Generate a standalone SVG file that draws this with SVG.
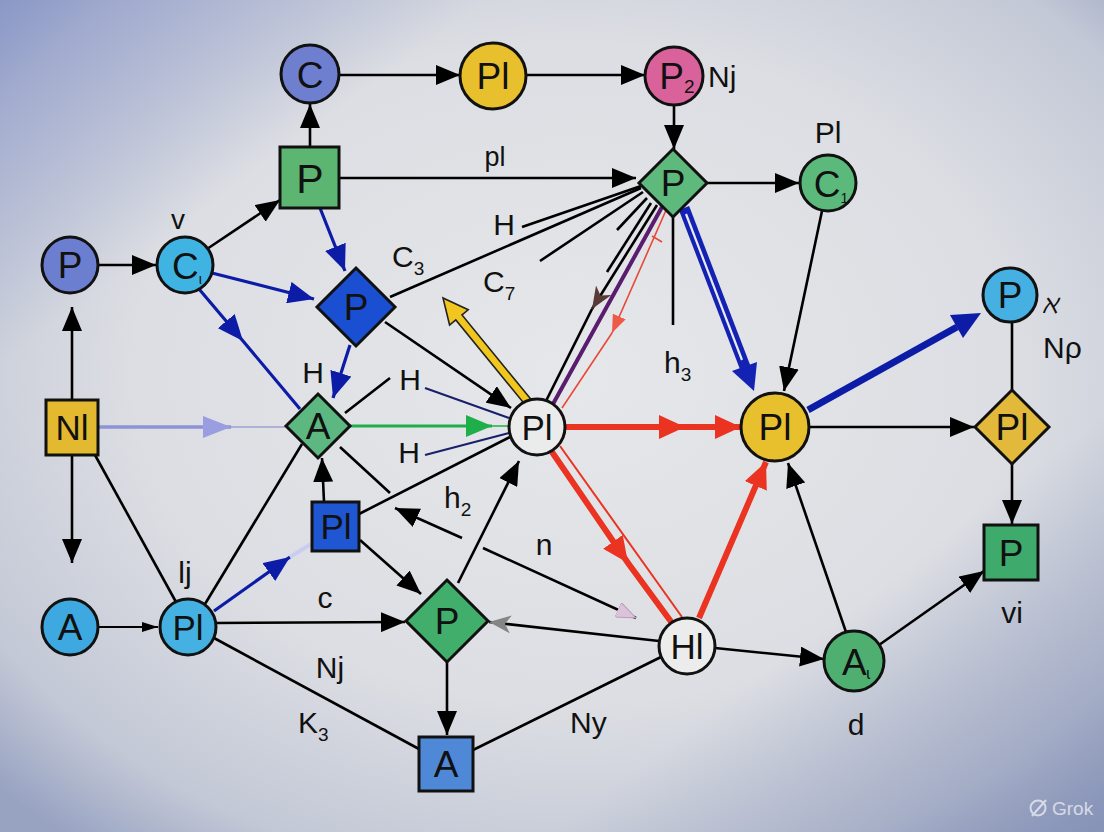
<svg xmlns="http://www.w3.org/2000/svg" width="1104" height="832" viewBox="0 0 1104 832">
<defs>
<radialGradient id="bg" cx="0.52" cy="0.45" r="0.72">
<stop offset="0" stop-color="#e6e7ea"/>
<stop offset="0.55" stop-color="#dcdee3"/>
<stop offset="0.85" stop-color="#c3c8d6"/>
<stop offset="1" stop-color="#98a3c2"/>
</radialGradient>
<linearGradient id="bg2" x1="0" y1="0" x2="1" y2="1">
<stop offset="0" stop-color="#7d8cc6" stop-opacity="0.65"/>
<stop offset="0.22" stop-color="#7d8cc6" stop-opacity="0"/>
<stop offset="0.75" stop-color="#7f8cb3" stop-opacity="0"/>
<stop offset="1" stop-color="#7f8cb3" stop-opacity="0.7"/>
</linearGradient>
<marker id="ah" markerUnits="userSpaceOnUse" markerWidth="24" markerHeight="20" refX="24" refY="10" orient="auto"><path d="M0,0 L24,10 L0,20 z" fill="#000"/></marker>
<marker id="ahs" markerUnits="userSpaceOnUse" markerWidth="16" markerHeight="10" refX="16" refY="5" orient="auto"><path d="M0,0 L16,5 L0,10 z" fill="#000"/></marker>
<marker id="ahb" markerUnits="userSpaceOnUse" markerWidth="26" markerHeight="22" refX="26" refY="11" orient="auto"><path d="M0,0 L26,11 L0,22 z" fill="#0c1ca6"/></marker>
<marker id="ahg" markerUnits="userSpaceOnUse" markerWidth="26" markerHeight="22" refX="26" refY="11" orient="auto"><path d="M0,0 L26,11 L0,22 z" fill="#1eae4a"/></marker>
<marker id="ahr" markerUnits="userSpaceOnUse" markerWidth="26" markerHeight="24" refX="26" refY="12" orient="auto"><path d="M0,0 L26,12 L0,24 z" fill="#ea3320"/></marker>
<marker id="ahrt" markerUnits="userSpaceOnUse" markerWidth="18" markerHeight="14" refX="18" refY="7" orient="auto"><path d="M0,0 L18,7 L0,14 z" fill="#ee5a48"/></marker>
<marker id="ahp" markerUnits="userSpaceOnUse" markerWidth="28" markerHeight="22" refX="28" refY="11" orient="auto"><path d="M0,0 L28,11 L0,22 z" fill="#9a9de0"/></marker>
<marker id="ahgr" markerUnits="userSpaceOnUse" markerWidth="22" markerHeight="18" refX="22" refY="9" orient="auto"><path d="M0,0 L22,9 L0,18 L6,9 z" fill="#858585"/></marker>
<marker id="ahpk" markerUnits="userSpaceOnUse" markerWidth="20" markerHeight="16" refX="20" refY="8" orient="auto"><path d="M0,0 L20,8 L0,16 z" fill="#dcc3dc" stroke="#b89ab8" stroke-width="1"/></marker>
<marker id="ahbr" markerUnits="userSpaceOnUse" markerWidth="22" markerHeight="18" refX="22" refY="9" orient="auto"><path d="M0,0 L22,9 L0,18 L6,9 z" fill="#5a3a34"/></marker>
<style>
.nd{stroke:#111;stroke-width:3}
.nl{font-family:"Liberation Sans",Arial,sans-serif;font-size:37px;text-anchor:middle;fill:#111}
.el{font-family:"Liberation Sans",Arial,sans-serif;font-size:30px;fill:#111}
.sub{font-size:19px}
.k{stroke:#000;stroke-width:2.6;fill:none}
.kb{stroke:#0c1ca6;stroke-width:3.2;fill:none}
.nv{stroke:#1a1f6a;stroke-width:2;fill:none}
</style>
</defs>
<rect width="1104" height="832" fill="url(#bg)"/>
<rect width="1104" height="832" fill="url(#bg2)"/>

<g id="edges">
<path class="k" d="M339,75 L460,75" marker-end="url(#ah)"/>
<path class="k" d="M526,75 L645,75" marker-end="url(#ah)"/>
<path class="k" d="M674,105 L674,149" marker-end="url(#ah)"/>
<path class="k" d="M310,147 L310,104" marker-end="url(#ah)"/>
<path class="k" d="M339,178 L636,178" marker-end="url(#ah)"/>
<path class="k" d="M707,183 L799,183" marker-end="url(#ah)"/>
<path class="k" d="M98,265 L156,265" marker-end="url(#ah)"/>
<path class="k" d="M207,249 L280,200" marker-end="url(#ah)"/>
<path class="kb" d="M212,273 L314,299" marker-end="url(#ahb)"/>
<path class="kb" d="M199,289 L243,341 L300,409" marker-mid="url(#ahb)"/>
<path class="kb" d="M320,208 L345,271" marker-end="url(#ahb)"/>
<path class="kb" d="M350,345 L333,398" marker-end="url(#ahb)"/>
<path class="kb" d="M214,611 L290,557" marker-end="url(#ahb)"/>
<path d="M290,557 L311,544" stroke="#c9cdf0" stroke-width="4"/>
<path class="k" d="M390,297 L641,188"/>
<path class="k" d="M522,227 L641,186"/>
<path class="k" d="M540,261 L643,192"/>
<path class="k" d="M617,230 L647,198"/>
<path class="k" d="M607,272 L651,203"/>
<path class="k" d="M657,205 L592,309" marker-end="url(#ahbr)"/>
<path class="k" d="M592,309 L546,401"/>
<path d="M553,404 L662,207" stroke="#5a1c6e" stroke-width="4" fill="none"/>
<path d="M667,208 L612,333" stroke="#e84838" stroke-width="1.6" fill="none" marker-end="url(#ahrt)"/>
<path d="M612,333 L562,408" stroke="#e84838" stroke-width="1.6" fill="none"/>
<path d="M652,236 L662,242" stroke="#e84838" stroke-width="1.6"/>
<path class="k" d="M673,217 L673,325"/>
<path d="M684,208 L745,367" stroke="#1422b4" stroke-width="11" fill="none"/>
<path d="M686,214 L742,360" stroke="#e8eaf4" stroke-width="2.2" fill="none"/>
<polygon points="757,362 732,371 754,391" fill="#1422b4"/>
<path class="k" d="M822,211 L784,391" marker-end="url(#ah)"/>
<path d="M808,410 L957,327" stroke="#0c1ca6" stroke-width="7" fill="none"/>
<polygon points="963,338 950,315 981,313" fill="#0c1ca6"/>
<path class="k" d="M1012,322 L1012,390"/>
<path class="k" d="M809,427 L974,427" marker-end="url(#ah)"/>
<path class="k" d="M1012,464 L1012,524" marker-end="url(#ah)"/>
<path class="k" d="M879,645 L984,571" marker-end="url(#ah)"/>
<path class="k" d="M846,632 L788,463" marker-end="url(#ah)"/>
<path class="k" d="M715,648 L824,659" marker-end="url(#ah)"/>
<path d="M565,427 L685,427 L741,427" stroke="#ea3320" stroke-width="6" fill="none" marker-mid="url(#ahr)" marker-end="url(#ahr)"/>
<path d="M699,618 L766,462" stroke="#ea3320" stroke-width="6" fill="none" marker-end="url(#ahr)"/>
<path d="M552,452 L628,563 L672,623" stroke="#ea3320" stroke-width="6" fill="none" marker-mid="url(#ahr)"/>
<path d="M560,446 L682,617" stroke="#ea3320" stroke-width="2" fill="none"/>
<polygon points="531.1,399.5 462,314.9 468.2,309.8 443,298 449.6,325 455.8,319.9 524.9,404.5" fill="#f1c71f" stroke="#222" stroke-width="1.6"/>
<path d="M350,426 L492,426" stroke="#1eae4a" stroke-width="3" fill="none" marker-end="url(#ahg)"/>
<path d="M492,426 L509,426" stroke="#1eae4a" stroke-width="1.5"/>
<path d="M98,427 L231,427" stroke="#8e92d6" stroke-width="3.5" fill="none" marker-end="url(#ahp)"/>
<path d="M231,427 L285,427" stroke="#9ea2d2" stroke-width="1.5"/>
<path class="k" d="M385,322 L511,408" marker-end="url(#ah)"/>
<path class="nv" d="M425,388 L509,418"/>
<path class="nv" d="M425,455 L509,433"/>
<path class="k" d="M345,413 L390,378"/>
<path class="k" d="M340,447 L390,493"/>
<path class="k" d="M359,514 L510,437"/>
<path class="k" d="M462,538 L395,508" marker-end="url(#ah)"/>
<path class="k" d="M483,548 L636,618" marker-end="url(#ahpk)"/>
<path class="k" d="M458,583 L519,461" marker-end="url(#ah)"/>
<path class="k" d="M360,540 L421,594" marker-end="url(#ah)"/>
<path class="k" d="M324,502 L322,458" marker-end="url(#ah)"/>
<path class="k" d="M72,400 L72,307" marker-end="url(#ah)"/>
<path class="k" d="M72,455 L72,563" marker-end="url(#ah)"/>
<path class="k" d="M95,455 L176,602"/>
<path class="k" d="M205,604 L302,444"/>
<path d="M98,627 L158,627" stroke="#000" stroke-width="2" marker-end="url(#ahs)"/>
<path class="k" d="M216,623 L405,622" marker-end="url(#ah)"/>
<path class="k" d="M214,638 L419,749"/>
<path class="k" d="M447,662 L447,735" marker-end="url(#ah)"/>
<path class="k" d="M473,750 L661,657"/>
<path class="k" d="M659,641 L489,622" marker-end="url(#ahgr)"/>
</g>

<g id="labels">
<text class="el" x="495" y="166" text-anchor="middle" style="font-size:27px">pl</text>
<text class="el" x="504" y="235" text-anchor="middle">H</text>
<text class="el" x="392" y="267">C<tspan class="sub" dy="8">3</tspan></text>
<text class="el" x="483" y="292">C<tspan class="sub" dy="8">7</tspan></text>
<text class="el" x="664" y="373">h<tspan class="sub" dy="8">3</tspan></text>
<text class="el" x="313" y="383" text-anchor="middle">H</text>
<text class="el" x="410" y="390" text-anchor="middle">H</text>
<text class="el" x="409" y="463" text-anchor="middle">H</text>
<text class="el" x="444" y="508">h<tspan class="sub" dy="8">2</tspan></text>
<text class="el" x="544" y="555" text-anchor="middle">n</text>
<text class="el" x="185" y="583" text-anchor="middle">lj</text>
<text class="el" x="325" y="608" text-anchor="middle">c</text>
<text class="el" x="330" y="678" text-anchor="middle">Nj</text>
<text class="el" x="298" y="733">K<tspan class="sub" dy="8">3</tspan></text>
<text class="el" x="570" y="733">Ny</text>
<text class="el" x="708" y="87">Nj</text>
<text class="el" x="828" y="143" text-anchor="middle">Pl</text>
<text class="el" x="178" y="229" text-anchor="middle" style="font-size:28px">v</text>
<text class="el" x="1042" y="313" style="font-size:26px;font-style:italic">ℵ</text>
<text class="el" x="1043" y="358">Nρ</text>
<text class="el" x="1012" y="623" text-anchor="middle">vi</text>
<text class="el" x="856" y="735" text-anchor="middle">d</text>
</g>

<g id="n-C-top"><circle class="nd" cx="310" cy="74" r="29" fill="#6e7fd0"/><text class="nl" x="310" y="88">C</text></g>
<g id="n-PI-yellow-top"><circle class="nd" cx="493" cy="76" r="33" fill="#e8bf2c"/><text class="nl" x="493" y="89">Pl</text></g>
<g id="n-P2"><circle class="nd" cx="674" cy="76" r="29" fill="#d9629b"/><text class="nl" x="677" y="89">P<tspan class="sub" dy="4">2</tspan></text></g>
<g id="n-P-diamond-top"><polygon class="nd" points="673,149 707,183 673,217 639,183" fill="#5dba7c"/><text class="nl" x="673" y="196">P</text></g>
<g id="n-C1"><circle class="nd" cx="828" cy="183" r="28" fill="#5cb97c"/><text class="nl" x="831" y="197">C<tspan style="font-size:14px" dy="6">1</tspan></text></g>
<g id="n-P-square"><rect class="nd" x="280" y="147" width="59" height="61" fill="#5cb672"/><text class="nl" x="310" y="193" style="font-size:41px">P</text></g>
<g id="n-P-left"><circle class="nd" cx="70" cy="265" r="28" fill="#6c7ecf"/><text class="nl" x="70" y="278">P</text></g>
<g id="n-C4"><circle class="nd" cx="185" cy="265" r="28" fill="#3fb4e2"/><text class="nl" x="187" y="279">C<tspan style="font-size:14px" dy="5">ι</tspan></text></g>
<g id="n-P-blue-diamond"><polygon class="nd" points="356,268 395,307 356,346 317,307" fill="#1a4fd2"/><text class="nl" x="356" y="320">P</text></g>
<g id="n-A-diamond"><polygon class="nd" points="318,394 350,426 318,458 286,426" fill="#5cb880"/><text class="nl" x="318" y="439">A</text></g>
<g id="n-NI"><rect class="nd" x="46" y="400" width="52" height="55" fill="#e2b92f"/><text class="nl" x="72" y="440" style="font-size:35px">Nl</text></g>
<g id="n-PI-center"><circle class="nd" cx="537" cy="427" r="28" fill="#ebebeb"/><text class="nl" x="537" y="440" style="font-size:35px">Pl</text></g>
<g id="n-PI-yellow-big"><circle class="nd" cx="775" cy="427" r="34" fill="#e8c02e"/><text class="nl" x="775" y="440">Pl</text></g>
<g id="n-PI-diamond-right"><polygon class="nd" points="1012,390 1049,427 1012,464 975,427" fill="#e2b93a"/><text class="nl" x="1012" y="440">Pl</text></g>
<g id="n-P-right"><circle class="nd" cx="1010" cy="295" r="27" fill="#47b0e2"/><text class="nl" x="1010" y="308">P</text></g>
<g id="n-P-square-br"><rect class="nd" x="984" y="525" width="54" height="55" fill="#3eaa6c"/><text class="nl" x="1011" y="566">P</text></g>
<g id="n-A1"><circle class="nd" cx="854" cy="661" r="30" fill="#4faf70"/><text class="nl" x="856" y="675">A<tspan style="font-size:16px" dy="4">ɩ</tspan></text></g>
<g id="n-HI"><circle class="nd" cx="687" cy="646" r="28" fill="#ececec"/><text class="nl" x="687" y="659" style="font-size:35px">Hl</text></g>
<g id="n-P-diamond-bottom"><polygon class="nd" points="447,580 488,621 447,662 406,621" fill="#41ae6b"/><text class="nl" x="447" y="634">P</text></g>
<g id="n-A-square"><rect class="nd" x="419" y="737" width="54" height="54" fill="#5088d8"/><text class="nl" x="446" y="777">A</text></g>
<g id="n-PI-blue-square"><rect class="nd" x="312" y="502" width="47" height="49" fill="#1f56d2"/><text class="nl" x="336" y="539" style="font-size:35px">Pl</text></g>
<g id="n-PI-bl-circle"><circle class="nd" cx="188" cy="627" r="28" fill="#45b0e2"/><text class="nl" x="188" y="640" style="font-size:35px">Pl</text></g>
<g id="n-A-circle"><circle class="nd" cx="70" cy="627" r="28" fill="#3ea9e0"/><text class="nl" x="70" y="640">A</text></g>

<g id="watermark" opacity="0.75">
<circle cx="1038" cy="808" r="7.5" fill="none" stroke="#eef0f6" stroke-width="2"/>
<path d="M1032,816 L1046,800" stroke="#eef0f6" stroke-width="2"/>
<text x="1052" y="815" style="font-family:'Liberation Sans',Arial,sans-serif;font-size:19px;fill:#eef0f6">Grok</text>
</g>
</svg>
